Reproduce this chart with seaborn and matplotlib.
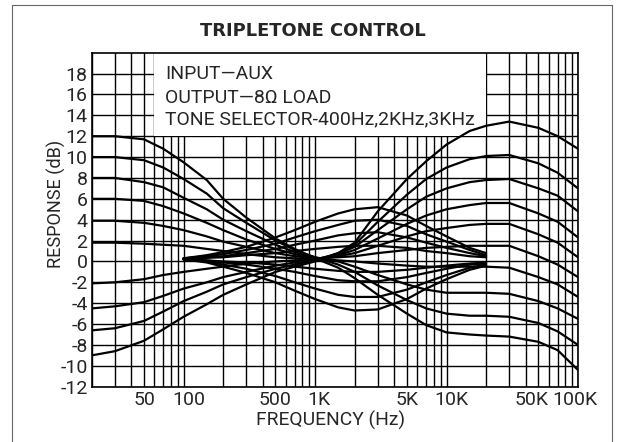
import numpy as np
import pandas as pd
import matplotlib
matplotlib.use("Agg")
import matplotlib.pyplot as plt
import matplotlib.transforms as mtransforms
import seaborn as sns

freq_full = [20, 30, 50, 70, 100, 150, 200, 300, 500, 700, 1000, 1500, 2000,
             3000, 5000, 7000, 10000, 15000, 20000, 30000, 50000, 70000, 100000]
freq_mid = [100, 150, 200, 300, 500, 700, 1000, 1500, 2000, 3000, 5000, 7000,
            10000, 15000, 20000]

# full range curves (bass setting / treble setting), dB
bass12_treb_cut = [12.0, 12.0, 11.7, 10.8, 9.5, 7.8, 6.0, 4.2, 2.2, 1.2, 0.3, -0.6, -1.6,
                   -3.2, -5.0, -6.1, -6.8, -7.0, -7.1, -7.2, -7.7, -8.5, -10.4]
bass10_treb_cut = [10.0, 10.0, 9.7, 9.0, 7.9, 6.5, 5.1, 3.7, 2.0, 1.1, 0.4, -0.3, -1.0,
                   -2.3, -3.7, -4.5, -5.0, -5.2, -5.2, -5.3, -5.9, -6.7, -8.0]
bass8_treb_cut = [8.0, 8.0, 7.6, 7.1, 6.1, 5.0, 4.0, 2.9, 1.6, 0.9, 0.4, 0.0, -0.5,
                  -1.3, -2.2, -2.7, -3.0, -3.0, -3.0, -3.1, -3.8, -4.5, -5.5]
bass6_treb_flat = [6.0, 6.0, 5.8, 5.3, 4.6, 3.7, 3.0, 2.1, 1.2, 0.7, 0.3, 0.1, 0.0,
                   -0.2, -0.4, -0.5, -0.5, -0.5, -0.5, -0.6, -1.5, -2.2, -3.4]
bass4_treb_up = [3.9, 3.9, 3.7, 3.4, 3.0, 2.4, 1.9, 1.4, 0.8, 0.5, 0.3, 0.4, 0.5,
                 0.8, 1.1, 1.3, 1.4, 1.5, 1.5, 1.5, 0.5, -0.3, -1.5]
bass2_treb_up = [1.8, 1.8, 1.7, 1.6, 1.5, 1.2, 1.0, 0.7, 0.4, 0.3, 0.2, 0.5, 0.8,
                 1.5, 2.4, 2.9, 3.2, 3.5, 3.6, 3.6, 2.6, 1.8, 0.4]
bassm2_treb_up = [-2.1, -2.0, -1.7, -1.3, -1.0, -0.7, -0.5, -0.2, 0.0, 0.1, 0.2, 0.6, 1.1,
                  2.2, 3.6, 4.4, 5.0, 5.4, 5.6, 5.6, 4.6, 3.8, 2.3]
bassm4_treb_up = [-4.5, -4.3, -3.9, -3.3, -2.6, -2.0, -1.5, -1.0, -0.4, -0.1, 0.2, 0.7, 1.4,
                  3.0, 5.0, 6.2, 7.0, 7.6, 7.8, 7.9, 7.0, 6.3, 4.8]
bassm6_treb_up = [-6.6, -6.4, -5.7, -4.8, -3.8, -2.9, -2.2, -1.5, -0.7, -0.3, 0.1, 0.8, 1.6,
                  3.8, 6.4, 7.9, 9.0, 9.8, 10.1, 10.2, 9.4, 8.5, 7.0]
bassm9_treb_up = [-9.0, -8.6, -7.6, -6.5, -5.3, -4.1, -3.2, -2.2, -1.0, -0.5, 0.0, 0.8, 1.8,
                  4.8, 7.9, 9.6, 11.2, 12.5, 13.0, 13.4, 12.8, 12.0, 10.8]

# mid (tone selector) curves, drawn only from 100 Hz to 20 kHz
mid_boost_5 = [0.3, 0.6, 0.9, 1.4, 2.3, 3.0, 3.8, 4.6, 5.0, 5.2, 4.4, 3.4, 2.4, 1.3, 0.8]
mid_boost_4 = [0.3, 0.5, 0.7, 1.1, 1.7, 2.3, 2.9, 3.5, 3.9, 4.0, 3.4, 2.6, 1.9, 1.1, 0.6]
mid_boost_3 = [0.3, 0.4, 0.5, 0.8, 1.2, 1.6, 2.0, 2.5, 2.7, 2.8, 2.3, 1.8, 1.3, 0.8, 0.5]
mid_boost_1 = [0.3, 0.35, 0.4, 0.6, 0.8, 1.0, 1.2, 1.4, 1.5, 1.5, 1.3, 1.0, 0.8, 0.5, 0.4]
mid_cut_1 = [0.2, 0.1, 0.0, -0.1, -0.3, -0.5, -0.7, -0.9, -1.0, -1.0, -0.8, -0.6, -0.4, -0.2, -0.1]
mid_cut_2 = [0.2, 0.1, -0.1, -0.3, -0.7, -1.0, -1.4, -1.8, -1.9, -1.9, -1.5, -1.1, -0.7, -0.3, -0.2]
mid_cut_3 = [0.2, 0.0, -0.3, -0.7, -1.4, -2.0, -2.6, -3.2, -3.4, -3.4, -2.7, -2.0, -1.3, -0.6, -0.3]
mid_cut_5 = [0.2, -0.1, -0.5, -1.1, -2.0, -2.8, -3.6, -4.4, -4.7, -4.6, -3.6, -2.6, -1.7, -0.8, -0.4]

full_curves = [bass12_treb_cut, bass10_treb_cut, bass8_treb_cut, bass6_treb_flat,
               bass4_treb_up, bass2_treb_up, bassm2_treb_up, bassm4_treb_up,
               bassm6_treb_up, bassm9_treb_up]
mid_curves = [mid_boost_5, mid_boost_4, mid_boost_3, mid_boost_1,
              mid_cut_1, mid_cut_2, mid_cut_3, mid_cut_5]

x_ticks = [50, 100, 500, 1000, 5000, 10000, 50000, 100000]
x_labels = ["50", "100", "500", "1K", "5K", "10K", "50K", "100K"]
y_ticks = list(range(-12, 20, 2))

rows = []
for i, c in enumerate(full_curves):
    for f, v in zip(freq_full, c):
        rows.append((f"full{i}", f, v))
for i, c in enumerate(mid_curves):
    for f, v in zip(freq_mid, c):
        rows.append((f"mid{i}", f, v))
df = pd.DataFrame(rows, columns=["curve", "freq", "db"])

sns.set_style("white")
plt.rcParams["font.family"] = ["Roboto", "DejaVu Sans"]

W, H = 617, 442
fig = plt.figure(figsize=(6.17, 4.42), dpi=100)
# plot area: x 91.7..578 px, y 52.7..386.7 px
ax = fig.add_axes([91.7 / W, 1 - 386.7 / H, (578 - 91.7) / W, (386.7 - 52.7) / H])

ax.set_xscale("log")
ax.set_xlim(20, 100000)
ax.set_ylim(-12, 20)

sns.lineplot(data=df, x="freq", y="db", units="curve", estimator=None,
             color="black", linewidth=1.6, ax=ax, zorder=3, legend=False)

ax.set_yticks(y_ticks)
ax.set_yticklabels([str(v) for v in y_ticks])
ax.set_xticks(x_ticks)
ax.set_xticklabels(x_labels)
ax.xaxis.set_minor_formatter(matplotlib.ticker.NullFormatter())
ax.grid(which="both", axis="x", color="black", linewidth=1.0)
ax.grid(which="major", axis="y", color="black", linewidth=1.0)
ax.tick_params(which="both", length=0, labelsize=14, pad=3)
for s in ax.spines.values():
    s.set_color("black")
    s.set_linewidth(1.2)
ax.set_xlabel("")
ax.set_ylabel("")

# white panel behind the notes (covers the grid from 60 Hz to 20 kHz, 12 dB up)
ax.fill_between([60, 20000], 12, 20, color="white", zorder=2.5, linewidth=0)

notes = ["INPUT\u2014AUX", "OUTPUT\u20148\u03a9 LOAD", "TONE SELECTOR-400Hz,2KHz,3KHz"]
note_base = [79, 103.3, 124.3]
note_txt = [fig.text(165 / W, 1 - yb / H, s, fontsize=14, va="baseline", ha="left")
            for s, yb in zip(notes, note_base)]

title = fig.text(313 / W, 1 - 31 / H, "TRIPLETONE CONTROL", ha="center", va="center",
                 fontsize=12, fontweight="bold", family="DejaVu Sans")
xlab = fig.text(331 / W, 1 - 420 / H, "FREQUENCY (Hz)", ha="center", va="center",
                fontsize=13)
ylab = fig.text(56 / W, 1 - 204 / H, "RESPONSE (dB)", ha="center", va="center",
                rotation=90, fontsize=13)

# size texts to the widths measured on the reference
fig.canvas.draw()
rend = fig.canvas.get_renderer()


def fit(t, target, horizontal=True):
    bb = t.get_window_extent(rend)
    size = bb.width if horizontal else bb.height
    t.set_fontsize(t.get_fontsize() * target / size)


fit(title, 225)
fit(xlab, 148)
fit(ylab, 128, horizontal=False)
fit(note_txt[2], 310)
for t in note_txt[:2]:
    t.set_fontsize(note_txt[2].get_fontsize())

# nudge some frequency labels the way they sit on the reference
nudge = {"100": 5, "1K": 4, "10K": 5, "50K": -7, "100K": -3}
for lab in ax.get_xticklabels():
    dx = nudge.get(lab.get_text(), 0)
    if dx:
        lab.set_transform(lab.get_transform() +
                          mtransforms.ScaledTranslation(dx / 100, 0, fig.dpi_scale_trans))

# thin page frame
frame = dict(color="#666666", linewidth=0.8, transform=fig.transFigure)
fig.add_artist(matplotlib.lines.Line2D([12 / W, 612 / W], [1 - 5 / H, 1 - 5 / H], **frame))
fig.add_artist(matplotlib.lines.Line2D([12 / W, 12 / W], [0, 1 - 5 / H], **frame))
fig.add_artist(matplotlib.lines.Line2D([612 / W, 612 / W], [0, 1 - 5 / H], **frame))

fig.savefig("out.png", dpi=100, facecolor="white")
